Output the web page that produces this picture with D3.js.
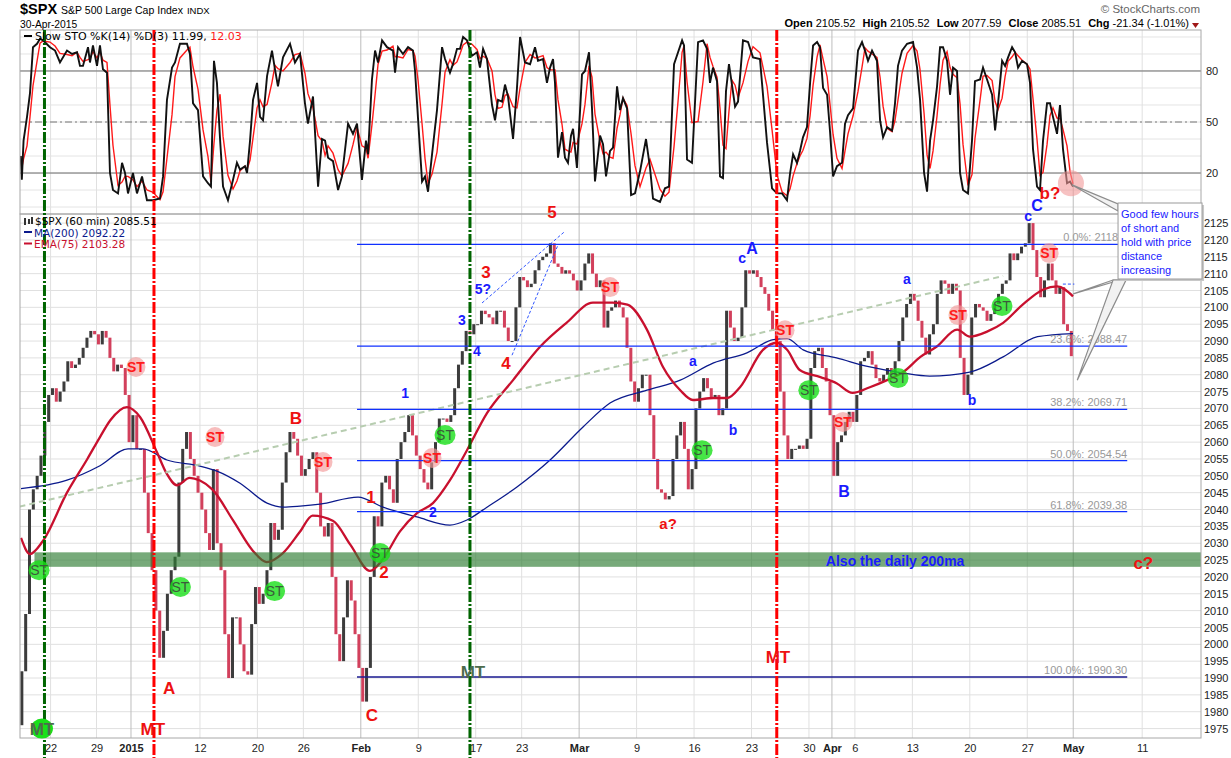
<!DOCTYPE html>
<html>
<head>
<meta charset="utf-8">
<title>$SPX 60 min</title>
<script src="https://cdn.jsdelivr.net/npm/d3@7"></script>
<style>
  body { margin: 0; background: #fff; }
  svg text { font-family: Arial, "Liberation Sans", sans-serif; }
</style>
</head>
<body>
<div id="chart"></div>
<script>
// ---- data ----
// three closes per trading day, day 0 = 17 Dec 2014
var closes = [
  1976, 1992, 2009,  2040, 2046, 2050,  2056, 2066, 2074,   // Dec 17-19
  2076, 2072, 2075,  2078, 2084, 2082,  2083, 2085, 2088,  2091, 2093, 2092,   // Dec 22-26
  2089, 2093, 2091,  2085, 2081, 2083,  2082, 2074, 2060,  2068, 2058, 2058,   // Dec 29 - Jan 2
  2045, 2033, 2022,  2010, 1996, 2004,  2015, 2022, 2026,  2048, 2058, 2063,  2055, 2050, 2045,   // Jan 5-9
  2040, 2033, 2028,  2052, 2030, 2022,  2003, 1990, 2008,  2008, 2000, 1992,  1991, 2006, 2017,   // Jan 12-16
  2012, 2015, 2022,  2036, 2031, 2034,  2048, 2057, 2063,  2061, 2056, 2050,   // Jan 20-23
  2052, 2055, 2057,  2045, 2035, 2032,  2036, 2020, 2003,  1995, 2008, 2019,  2013, 2003, 1993,   // Jan 26-30
  1983, 1993, 2020,  2038, 2035, 2048,  2050, 2046, 2042,  2055, 2060, 2063,  2068, 2062, 2056,   // Feb 2-6
  2052, 2048, 2046,  2054, 2060, 2067,  2067, 2066, 2068,  2076, 2083, 2087,  2093, 2092, 2095,   // Feb 9-13
  2095, 2099, 2098,  2097, 2095, 2099,  2099, 2094, 2090,  2090, 2100, 2109,   // Feb 17-20
  2108, 2106, 2107,  2111, 2114, 2115,  2116, 2119, 2113,  2112, 2110, 2111,  2110, 2108, 2105,   // Feb 23-27
  2108, 2113, 2116,  2110, 2106, 2108,  2094, 2099, 2100,  2102, 2100, 2097,  2088, 2078, 2072,   // Mar 2-6
  2076, 2080, 2080,  2068, 2055, 2046,  2045, 2043, 2044,  2055, 2062, 2066,  2058, 2046, 2052,   // Mar 9-13
  2070, 2075, 2079,  2076, 2073, 2074,  2068, 2070, 2099,  2094, 2090, 2091,  2100, 2111, 2110,   // Mar 16-20
  2111, 2109, 2106,  2104, 2099, 2093,  2090, 2075, 2062,  2055, 2058, 2058,  2059, 2058, 2061,   // Mar 23-27
  2082, 2087, 2088,  2082, 2078, 2068,  2050, 2060, 2062,  2066, 2069, 2066,   // Mar 30 - Apr 2
  2074, 2084, 2085,  2087, 2083, 2079,  2078, 2080, 2082,  2080, 2084, 2090,  2097, 2101, 2104,   // Apr 6-10
  2102, 2096, 2091,  2086, 2092, 2095,  2104, 2108, 2107,  2104, 2107, 2105,  2085, 2074, 2080,   // Apr 13-17
  2097, 2101, 2100,  2099, 2096, 2098,  2101, 2104, 2107,  2108, 2116, 2114,  2116, 2118, 2119,   // Apr 20-24
  2125, 2117, 2109,  2103, 2108, 2113,  2108, 2104, 2106,  2095, 2093, 2085.51                     // Apr 27-30
];
var barsPerDay = 3;

// moving averages: [trading day, value]
var ma200 = [[0.43,2046.2],[4.43,2048.7],[7.3,2053],[9.74,2058],[11.04,2058],[13.13,2054.7],[16.0,2052.9],
  [17.48,2051.4],[19.49,2047.8],[21.84,2041.9],[23.23,2040.7],[24.71,2041],[26.45,2041.6],[29.76,2043.7],
  [31.93,2040.7],[34.89,2037.8],[37.76,2035.4],[39.24,2036.9],[40.98,2040.7],[43.59,2046.7],[46.47,2054.7],
  [49.34,2064.5],[51.69,2071.6],[54.9,2075.4],[57.8,2078.4],[60.7,2083.5],[63.6,2086.5],[65.9,2090.4],
  [67.1,2090.7],[68.5,2087.4],[71.4,2085],[74.3,2082.3],[77.2,2080.5],[79.5,2079.6],[83.0,2080.8],
  [85.9,2085.3],[88.9,2091.3],[91.98,2092.22]];
var ema75 = [[0.43,2031.6],[1.2,2026.8],[2.3,2030.5],[4.43,2045],[6.2,2055],[7.3,2061.5],[8.2,2066.5],[9.65,2070.4],
  [10.8,2067.4],[12.26,2057],[13.1,2050.7],[14.0,2047.2],[15.1,2049.4],[16.0,2048.6],[17.1,2045.9],[18.9,2036.7],
  [20.6,2027.8],[21.8,2024.4],[23.2,2027],[24.7,2033.4],[25.8,2038.2],[27.6,2036.6],[29.1,2029.5],[30.8,2021.8],
  [31.93,2025.3],[33.41,2033.5],[34.89,2038.9],[36.28,2041.9],[37.76,2048.7],[39.24,2057.6],[40.98,2068.6],
  [43.25,2078.4],[45.6,2088.3],[47.9,2095.4],[50.2,2101.4],[51.9,2101.4],[53.2,2100.8],[54.9,2093.4],
  [56.3,2082.3],[57.8,2075.4],[58.9,2072.5],[60.7,2073.1],[61.9,2073.1],[63.0,2076.3],[65.0,2087.4],
  [66.2,2089.5],[67.1,2087.4],[68.2,2081.4],[70.0,2079.3],[71.4,2077.5],[72.8,2074.6],[74.3,2076.3],
  [75.8,2078.4],[77.2,2080.8],[78.7,2085.3],[80.1,2088.3],[81.9,2093.4],[83.0,2091.3],[84.5,2092.8],
  [85.9,2095.4],[87.6,2100.8],[89.4,2105.3],[90.6,2106.2],[91.98,2103.28]];

// slow stochastic %K: [trading day, value]
var stochK = [[0.40,30],[0.50,16],[0.65,39],[0.95,53],[1.21,67],[1.47,94],[1.82,96],[2.08,99],[2.34,98],[2.95,94],
  [3.39,92],[3.82,85],[4.43,92],[4.87,90],[5.30,91],[5.56,83],[5.82,83],[6.26,94],[6.43,85],[6.69,95],[7.04,83],
  [7.30,95],[7.56,81],[7.91,79],[8.17,20],[8.43,10],[8.87,8],[9.22,26],[9.48,20],[9.74,8],[10.17,20],[10.52,8],
  [10.96,18],[11.39,4],[11.92,4],[12.52,5],[12.79,18],[13.13,63],[13.57,82],[13.83,85],[14.26,96],[14.87,96],
  [15.13,90],[15.40,61],[15.83,57],[16.27,18],[16.70,14],[16.96,12],[17.22,86],[17.48,73],[17.75,40],[18.01,12],
  [18.44,4],[18.88,16],[19.22,26],[19.49,22],[19.92,24],[20.10,20],[20.36,39],[20.62,63],[20.97,73],[21.23,53],
  [21.49,51],[21.84,77],[22.27,92],[22.53,81],[22.79,71],[23.23,88],[23.84,96],[24.27,85],[24.71,90],[25.14,61],
  [25.40,49],[25.84,65],[26.28,12],[26.62,40],[26.89,39],[27.15,29],[27.58,27],[28.02,10],[28.36,18],[28.89,49],
  [29.32,43],[29.67,49],[30.10,16],[30.45,39],[30.63,31],[30.97,75],[31.24,92],[31.50,85],[31.85,98],[32.28,94],
  [32.80,92],[32.98,79],[33.24,94],[33.67,90],[34.11,94],[34.54,92],[34.72,80],[34.98,52],[35.33,15],[35.59,18],
  [35.85,9],[36.20,31],[36.63,57],[37.07,94],[37.33,87],[37.76,79],[38.02,84],[38.37,93],[38.63,93],[38.90,100],
  [39.24,98],[39.68,89],[40.11,91],[40.37,82],[40.64,93],[40.98,87],[41.42,60],[41.68,51],[41.94,63],[42.29,62],
  [42.55,72],[42.81,65],[43.25,40],[43.59,70],[43.86,100],[44.29,85],[44.73,84],[45.16,94],[45.42,86],[45.86,87],
  [46.20,73],[46.47,82],[46.73,87],[46.90,73],[47.16,29],[47.51,44],[47.77,29],[48.03,26],[48.29,42],[48.47,46],
  [48.81,23],[49.25,78],[49.51,80],[49.86,91],[50.12,58],[50.38,15],[50.82,42],[51.08,37],[51.34,18],[51.69,33],
  [51.95,35],[52.30,71],[52.56,57],[52.82,64],[53.17,58],[53.52,7],[53.86,8],[54.30,21],[54.82,40],[55.17,23],
  [55.43,5],[56.04,3],[56.47,11],[56.82,12],[57.26,84],[57.61,91],[57.96,98],[58.13,95],[58.39,28],[58.82,26],
  [59.35,97],[59.78,98],[60.13,93],[60.39,73],[60.65,82],[61.00,74],[61.26,18],[61.52,17],[61.78,68],[62.04,84],
  [62.30,72],[62.57,59],[62.83,62],[63.26,98],[63.70,97],[64.13,88],[64.74,87],[65.35,38],[65.79,11],[66.22,8],
  [66.66,8],[67.09,4],[67.36,20],[67.62,31],[67.96,26],[68.22,33],[68.48,41],[68.83,47],[69.10,73],[69.36,95],
  [69.71,97],[69.96,94],[70.23,70],[70.58,66],[70.84,44],[71.10,18],[71.44,24],[71.88,26],[72.14,49],[72.40,54],
  [72.84,58],[73.27,92],[73.62,97],[73.88,92],[74.14,86],[74.49,92],[74.92,86],[75.19,51],[75.45,41],[75.80,47],
  [76.23,45],[76.49,61],[76.75,83],[77.10,92],[77.54,96],[78.06,97],[78.41,82],[78.67,63],[79.02,20],[79.28,9],
  [79.54,39],[79.80,51],[80.15,71],[80.41,94],[80.67,94],[81.02,86],[81.28,66],[81.54,82],[81.89,80],[82.15,20],
  [82.41,10],[82.84,8],[83.19,39],[83.45,74],[83.89,75],[84.15,82],[84.50,75],[84.94,66],[85.20,45],[85.46,61],
  [85.81,86],[86.07,83],[86.33,88],[86.68,94],[86.94,91],[87.20,82],[87.55,86],[87.98,84],[88.24,73],[88.50,34],
  [88.85,12],[89.11,10],[89.37,39],[89.72,61],[89.98,61],[90.24,53],[90.59,43],[90.85,60],[91.11,34],[91.46,14],
  [91.72,15],[91.98,11.99]];

// date axis
var tickDays   = [3, 7, 10, 16, 21, 25, 30, 35, 40, 44, 49, 54, 59, 64, 69, 71, 73, 78, 83, 88, 92, 98];
var tickLabels = ["22","29","2015","12","20","26","Feb","9","17","23","Mar","9","16","23","30","Apr","6","13","20","27","May","11"];
var boldLabels = ["2015","Feb","Mar","Apr","May"];

// fibonacci retracement
var fibLevels = [2118.7, 2088.47, 2069.71, 2054.54, 2039.38, 1990.30];
var fibLabels = ["0.0%: 2118.7","23.6%: 2088.47","38.2%: 2069.71","50.0%: 2054.54","61.8%: 2039.38","100.0%: 1990.30"];
var fibSpan = [29.67, 96.7];

// hand drawn annotations
var mtLines = [[2.47,"#006400"],[12.0,"#ff0000"],[39.5,"#006400"],[66.2,"#ff0000"]];
var supportBand = [2023.0, 2027.3];
var trendLine = [[-1.4,2039.5],[85.9,2109.3]];
var wedgeLines = [[[40.55,2101.3],[47.68,2122.3]],[[43.16,2085.8],[47.16,2118.5]]];
var stRed = [[10.43,2082.3],[17.31,2061.5],[26.71,2054.1],[36.2,2055.3],[51.69,2106],[66.92,2093.2],[71.96,2066],[81.97,2097.7],[89.9,2116.1]];
var stGreen = [[2.0,2022],[14.3,2017],[22.5,2015.8],[31.67,2027.1],[37.33,2062.1],[59.7,2057.6],[68.99,2075.4],[76.75,2079],[85.8,2100.4]];
var redLabels = [["A",13.31,1987],["B",24.36,2067.1],["C",30.97,1979],["1",30.88,2043.7],["2",32.02,2021.4],
  ["3",40.9,2110.5],["4",42.64,2083.5],["5",46.64,2128.3],["a?",56.74,2036],["c?",98.1,2024.1]];
var blueLabels = [["1",33.85,2074.6],["2",36.28,2039.2],["3",38.8,2096.2],["4",40.11,2087],["5?",40.63,2105.4],
  ["a",58.91,2084],["b",62.39,2063.6],["c",63.18,2114.6],["A",64.05,2117.3],["B",72.05,2045.2],
  ["a",77.53,2108.4],["b",83.19,2072.5],["c",88.07,2127],["C",88.85,2130]];
var noteLines = ["Good few hours", "of short and", "hold with price", "distance", "increasing"];

// ---- layout ----
var left = 20, right = 1201, stoTop = 30, stoBottom = 214, priceTop = 214, priceBottom = 738;

var x = d3.scaleLinear().domain([0.34, 103.12]).range([left, right]);
var y = d3.scaleLinear().domain([1972.2, 2127.7]).range([priceBottom, priceTop]);
var ys = d3.scaleLinear().domain([-4.1, 104.1]).range([stoBottom, stoTop]);

var svg = d3.select("#chart").append("svg").attr("width", 1231).attr("height", 758);
var defs = svg.append("defs");
defs.append("clipPath").attr("id", "clipPrice").append("rect")
    .attr("x", left).attr("y", priceTop).attr("width", right - left).attr("height", priceBottom - priceTop);
defs.append("clipPath").attr("id", "clipSto").append("rect")
    .attr("x", left).attr("y", stoTop).attr("width", right - left).attr("height", stoBottom - stoTop);

// grid
var grid = svg.append("g");
grid.selectAll("line.h").data(d3.range(1975, 2126, 5)).enter().append("line")
    .attr("x1", left).attr("x2", right).attr("y1", function(d) { return y(d); }).attr("y2", function(d) { return y(d); })
    .attr("stroke", "#e0e0e0");
grid.selectAll("line.s").data(d3.range(0, 101, 10)).enter().append("line")
    .attr("x1", left).attr("x2", right).attr("y1", function(d) { return ys(d); }).attr("y2", function(d) { return ys(d); })
    .attr("stroke", "#e4e4e4");
grid.selectAll("line.v").data(tickDays).enter().append("line")
    .attr("x1", function(d) { return x(d); }).attr("x2", function(d) { return x(d); })
    .attr("y1", stoTop).attr("y2", priceBottom)
    .attr("stroke", function(d, i) { return boldLabels.indexOf(tickLabels[i]) >= 0 ? "#bdbdbd" : "#e0e0e0"; });
grid.selectAll("line.lv").data([20, 80]).enter().append("line")
    .attr("x1", left).attr("x2", right).attr("y1", function(d) { return ys(d); }).attr("y2", function(d) { return ys(d); })
    .attr("stroke", "#6e6e6e");
grid.append("line").attr("x1", left).attr("x2", right).attr("y1", ys(50)).attr("y2", ys(50))
    .attr("stroke", "#777").attr("stroke-dasharray", "7,3,2,3");

// ---- price panel ----
var pg = svg.append("g").attr("clip-path", "url(#clipPrice)");

var bars = closes.map(function(c, i) {
  var o = i ? closes[i - 1] : c;
  return { t: Math.floor(i / barsPerDay) + (i % barsPerDay + 0.5) / barsPerDay, o: o, c: c };
});
pg.selectAll("rect.bar").data(bars).enter().append("rect")
    .attr("x", function(d) { return x(d.t) - 1.5; })
    .attr("width", 3)
    .attr("y", function(d) { return y(Math.max(d.o, d.c)); })
    .attr("height", function(d) { return Math.max(1, Math.abs(y(d.o) - y(d.c))); })
    .attr("fill", function(d) { return d.c >= d.o ? "#3c3c3c" : "#d2405c"; });

var line = d3.line().x(function(d) { return x(d[0]); }).y(function(d) { return y(d[1]); }).curve(d3.curveMonotoneX);
pg.append("path").datum(ma200).attr("d", line).attr("fill", "none").attr("stroke", "#0b1a8c").attr("stroke-width", 1.3);
pg.append("path").datum(ema75).attr("d", line).attr("fill", "none").attr("stroke", "#c8102e").attr("stroke-width", 2.3);

pg.append("path").datum(trendLine).attr("d", d3.line().x(function(d) { return x(d[0]); }).y(function(d) { return y(d[1]); }))
    .attr("stroke", "#b7cdb0").attr("stroke-width", 2).attr("stroke-dasharray", "6,4").attr("fill", "none");

pg.append("rect").attr("x", x(1.6)).attr("width", right - x(1.6))
    .attr("y", y(supportBand[1])).attr("height", y(supportBand[0]) - y(supportBand[1]))
    .attr("fill", "#2e7d32").attr("opacity", 0.65);

pg.selectAll("line.fib").data(fibLevels).enter().append("line")
    .attr("x1", x(fibSpan[0])).attr("x2", x(fibSpan[1]))
    .attr("y1", function(d) { return y(d); }).attr("y2", function(d) { return y(d); })
    .attr("stroke", function(d, i) { return i === fibLevels.length - 1 ? "#1a1a90" : "#1030ff"; })
    .attr("stroke-width", 1.3);

wedgeLines.forEach(function(w) {
  pg.append("line").attr("x1", x(w[0][0])).attr("y1", y(w[0][1])).attr("x2", x(w[1][0])).attr("y2", y(w[1][1]))
      .attr("stroke", "#2f55ff").attr("stroke-width", 1).attr("stroke-dasharray", "3,2");
});
pg.append("line").attr("x1", x(91.1)).attr("x2", x(92.1)).attr("y1", y(2106.9)).attr("y2", y(2106.9))
    .attr("stroke", "#2f55ff").attr("stroke-dasharray", "3,2");

// ---- stochastic panel ----
var sg = svg.append("g").attr("clip-path", "url(#clipSto)");
var stochD = stochK.map(function(d, i) {
  var w = stochK.slice(Math.max(0, i - 2), i + 1);
  return [d[0], d3.mean(w, function(e) { return e[1]; })];
});
var sline = d3.line().x(function(d) { return x(d[0]); }).y(function(d) { return ys(d[1]); });
sg.append("path").datum(stochD).attr("d", sline).attr("fill", "none").attr("stroke", "#ff1a1a").attr("stroke-width", 1.4);
sg.append("path").datum(stochK).attr("d", sline).attr("fill", "none").attr("stroke", "#111").attr("stroke-width", 1.9);

// panel borders
svg.append("rect").attr("x", left).attr("y", stoTop).attr("width", right - left).attr("height", stoBottom - stoTop)
    .attr("fill", "none").attr("stroke", "#a8a8a8");
svg.append("rect").attr("x", left).attr("y", priceTop).attr("width", right - left).attr("height", priceBottom - priceTop)
    .attr("fill", "none").attr("stroke", "#a8a8a8");

// vertical MT lines
svg.selectAll("line.mt").data(mtLines).enter().append("line")
    .attr("x1", function(d) { return x(d[0]); }).attr("x2", function(d) { return x(d[0]); })
    .attr("y1", stoTop).attr("y2", 758)
    .attr("stroke", function(d) { return d[1]; }).attr("stroke-width", 3).attr("stroke-dasharray", "11,2,2,2");

// ---- annotations ----
var ann = svg.append("g");
ann.selectAll("ellipse.sr").data(stRed).enter().append("ellipse")
    .attr("cx", function(d) { return x(d[0]); }).attr("cy", function(d) { return y(d[1]); })
    .attr("rx", 9.5).attr("ry", 10).attr("fill", "#f29a9a").attr("opacity", 0.65);
ann.selectAll("text.sr").data(stRed).enter().append("text")
    .attr("x", function(d) { return x(d[0]); }).attr("y", function(d) { return y(d[1]) + 5; })
    .attr("text-anchor", "middle").attr("font-size", 14).attr("font-weight", "bold").attr("fill", "#ff1a1a").text("ST");
ann.selectAll("ellipse.sg").data(stGreen).enter().append("ellipse")
    .attr("cx", function(d) { return x(d[0]); }).attr("cy", function(d) { return y(d[1]); })
    .attr("rx", 10.5).attr("ry", 10).attr("fill", "#19e019").attr("opacity", 0.8);
ann.selectAll("text.sg").data(stGreen).enter().append("text")
    .attr("x", function(d) { return x(d[0]); }).attr("y", function(d) { return y(d[1]) + 5; })
    .attr("text-anchor", "middle").attr("font-size", 14).attr("fill", "#3b5a3b").text("ST");

ann.selectAll("text.rl").data(redLabels).enter().append("text")
    .attr("x", function(d) { return x(d[1]); }).attr("y", function(d) { return y(d[2]) + 6; })
    .attr("text-anchor", "middle").attr("font-size", function(d) { return d[0] === "a?" ? 15 : 17; })
    .attr("font-weight", "bold").attr("fill", "#ee1111").text(function(d) { return d[0]; });
ann.selectAll("text.bl").data(blueLabels).enter().append("text")
    .attr("x", function(d) { return x(d[1]); }).attr("y", function(d) { return y(d[2]) + 5; })
    .attr("text-anchor", "middle")
    .attr("font-size", function(d) { return /[ABC]/.test(d[0]) ? 16 : 14; })
    .attr("font-weight", "bold").attr("fill", "#1a1aff").text(function(d) { return d[0]; });

// MT labels
ann.append("ellipse").attr("cx", x(2.25)).attr("cy", y(1975)).attr("rx", 11).attr("ry", 10).attr("fill", "#19e019");
ann.append("text").attr("x", x(2.25)).attr("y", y(1975) + 6).attr("text-anchor", "middle")
    .attr("font-size", 17).attr("font-weight", "bold").attr("fill", "#4d6b4d").text("MT");
ann.append("text").attr("x", x(11.9)).attr("y", y(1975) + 6).attr("text-anchor", "middle")
    .attr("font-size", 17).attr("font-weight", "bold").attr("fill", "#ee1111").text("MT");
ann.append("text").attr("x", x(66.3)).attr("y", y(1996.2) + 6).attr("text-anchor", "middle")
    .attr("font-size", 17).attr("font-weight", "bold").attr("fill", "#ee1111").text("MT");
ann.append("text").attr("x", x(39.76)).attr("y", y(1991.8) + 6).attr("text-anchor", "middle")
    .attr("font-size", 17).attr("font-weight", "bold").attr("fill", "#4d6b4d").text("MT");

ann.append("text").attr("x", x(76.5)).attr("y", y(2024.6) + 5).attr("text-anchor", "middle")
    .attr("font-size", 14).attr("font-weight", "bold").attr("fill", "#1a1aff").text("Also the daily 200ma");

// stochastic marker
ann.append("circle").attr("cx", x(91.8)).attr("cy", ys(14)).attr("r", 13).attr("fill", "#f29a9a").attr("opacity", 0.6);
ann.append("text").attr("x", x(89.98)).attr("y", ys(8.2) + 6).attr("text-anchor", "middle")
    .attr("font-size", 17).attr("font-weight", "bold").attr("fill", "#ee1111").text("b?");

// fib labels
ann.selectAll("text.fib").data(fibLevels).enter().append("text")
    .attr("x", x(fibSpan[1])).attr("y", function(d) { return y(d) - 3; })
    .attr("text-anchor", "end").attr("font-size", 11).attr("fill", "#999").text(function(d, i) { return fibLabels[i]; });

// callout
var bx = x(95.9), bw = 84, by = 203, bh = 76;
var pointers = [
  [[x(91.9), ys(13)], [bx, by + 1], [bx, by + 8]],
  [[x(92.0), y(2104)], [bx - 5, by + bh + 1], [bx + 2, by + bh + 1]],
  [[x(92.35), y(2078.4)], [bx - 5, by + bh + 1], [bx + 8, by + bh + 1]]
];
pointers.forEach(function(p) {
  ann.append("polygon").attr("points", p.map(function(q) { return q.join(","); }).join(" "))
      .attr("fill", "#f2f2f2").attr("stroke", "#8c8c8c").attr("stroke-width", 1.2);
});
ann.append("rect").attr("x", bx + 2).attr("y", by + 2).attr("width", bw).attr("height", bh).attr("fill", "#c8c8c8");
ann.append("rect").attr("x", bx).attr("y", by).attr("width", bw).attr("height", bh)
    .attr("fill", "#fff").attr("stroke", "#9a9a9a");
ann.selectAll("text.note").data(noteLines).enter().append("text")
    .attr("x", bx + 3).attr("y", function(d, i) { return by + 15 + i * 14; })
    .attr("font-size", 11).attr("fill", "#1a1aff")
    .text(function(d) { return d; });

// ---- axes ----
var fontAxis = "Arial, 'Liberation Sans', sans-serif";
var gx = svg.append("g").attr("transform", "translate(0," + priceBottom + ")")
    .call(d3.axisBottom(x).tickValues(tickDays).tickFormat(function(d, i) { return tickLabels[i]; }).tickSize(0).tickPadding(6));
gx.attr("font-size", 11).attr("font-family", fontAxis);
gx.select(".domain").remove();
gx.selectAll("text").attr("fill", "#222")
    .attr("font-weight", function(d, i) { return boldLabels.indexOf(tickLabels[i]) >= 0 ? "bold" : null; });

var gy = svg.append("g").attr("transform", "translate(" + right + ",0)")
    .call(d3.axisRight(y).tickValues(d3.range(1975, 2126, 5)).tickSize(0).tickPadding(3).tickFormat(d3.format("d")));
gy.attr("font-size", 11).attr("font-family", fontAxis);
gy.select(".domain").remove();
gy.selectAll("text").attr("fill", "#222");

var gs = svg.append("g").attr("transform", "translate(" + right + ",0)")
    .call(d3.axisRight(ys).tickValues([20, 50, 80]).tickSize(0).tickPadding(5));
gs.attr("font-size", 11).attr("font-family", fontAxis);
gs.select(".domain").remove();
gs.selectAll("text").attr("fill", "#222");

// ---- header & legends ----
var head = svg.append("text").attr("x", 20).attr("y", 14);
head.append("tspan").attr("font-size", 14.5).attr("font-weight", "bold").text("$SPX");
head.append("tspan").attr("font-size", 10.5).attr("dx", 4).text("S&P 500 Large Cap Index");
head.append("tspan").attr("font-size", 9.5).attr("dx", 4).text("INDX");
svg.append("text").attr("x", 20).attr("y", 28).attr("font-size", 10.3).text("30-Apr-2015");
svg.append("text").attr("x", 1200).attr("y", 13).attr("text-anchor", "end").attr("font-size", 11.5)
    .attr("fill", "#666").text("\u00a9 StockCharts.com");

var ohlc = [["Open", "2105.52"], ["High", "2105.52"], ["Low", "2077.59"], ["Close", "2085.51"], ["Chg", "-21.34 (-1.01%)"]];
var qt = svg.append("text").attr("x", 1189).attr("y", 27).attr("text-anchor", "end").attr("font-size", 11);
ohlc.forEach(function(d, i) {
  qt.append("tspan").attr("font-weight", "bold").attr("dx", i ? 7 : 0).text(d[0]);
  qt.append("tspan").attr("dx", 3).text(d[1]);
});
svg.append("path").attr("d", "M1192,23 L1199,23 L1195.5,28 Z").attr("fill", "#a01818");

var mono = "'DejaVu Sans', Verdana, sans-serif";
svg.append("line").attr("x1", 24).attr("x2", 32).attr("y1", 36).attr("y2", 36).attr("stroke", "#000").attr("stroke-width", 2);
var sl = svg.append("text").attr("x", 35).attr("y", 40).attr("font-size", 11).style("font-family", mono);
sl.append("tspan").text("Slow STO %K(14) %D(3) 11.99, ");
sl.append("tspan").attr("fill", "#ff1a1a").text("12.03");

svg.append("rect").attr("x", 24).attr("y", 218).attr("width", 2).attr("height", 7).attr("fill", "#333");
svg.append("rect").attr("x", 28).attr("y", 219).attr("width", 2).attr("height", 5).attr("fill", "#333");
svg.append("rect").attr("x", 31).attr("y", 217).attr("width", 2).attr("height", 7).attr("fill", "#333");
svg.append("text").attr("x", 35).attr("y", 225).attr("font-size", 10.5).style("font-family", mono).text("$SPX (60 min) 2085.51");
svg.append("line").attr("x1", 24).attr("x2", 32).attr("y1", 232).attr("y2", 232).attr("stroke", "#0b1a8c").attr("stroke-width", 2);
svg.append("text").attr("x", 34).attr("y", 236.5).attr("font-size", 10.5).attr("fill", "#0b1a8c").style("font-family", mono).text("MA(200) 2092.22");
svg.append("line").attr("x1", 24).attr("x2", 32).attr("y1", 243.5).attr("y2", 243.5).attr("stroke", "#c8102e").attr("stroke-width", 2);
svg.append("text").attr("x", 34).attr("y", 248).attr("font-size", 10.5).attr("fill", "#c8102e").style("font-family", mono).text("EMA(75) 2103.28");
</script>
</body>
</html>
